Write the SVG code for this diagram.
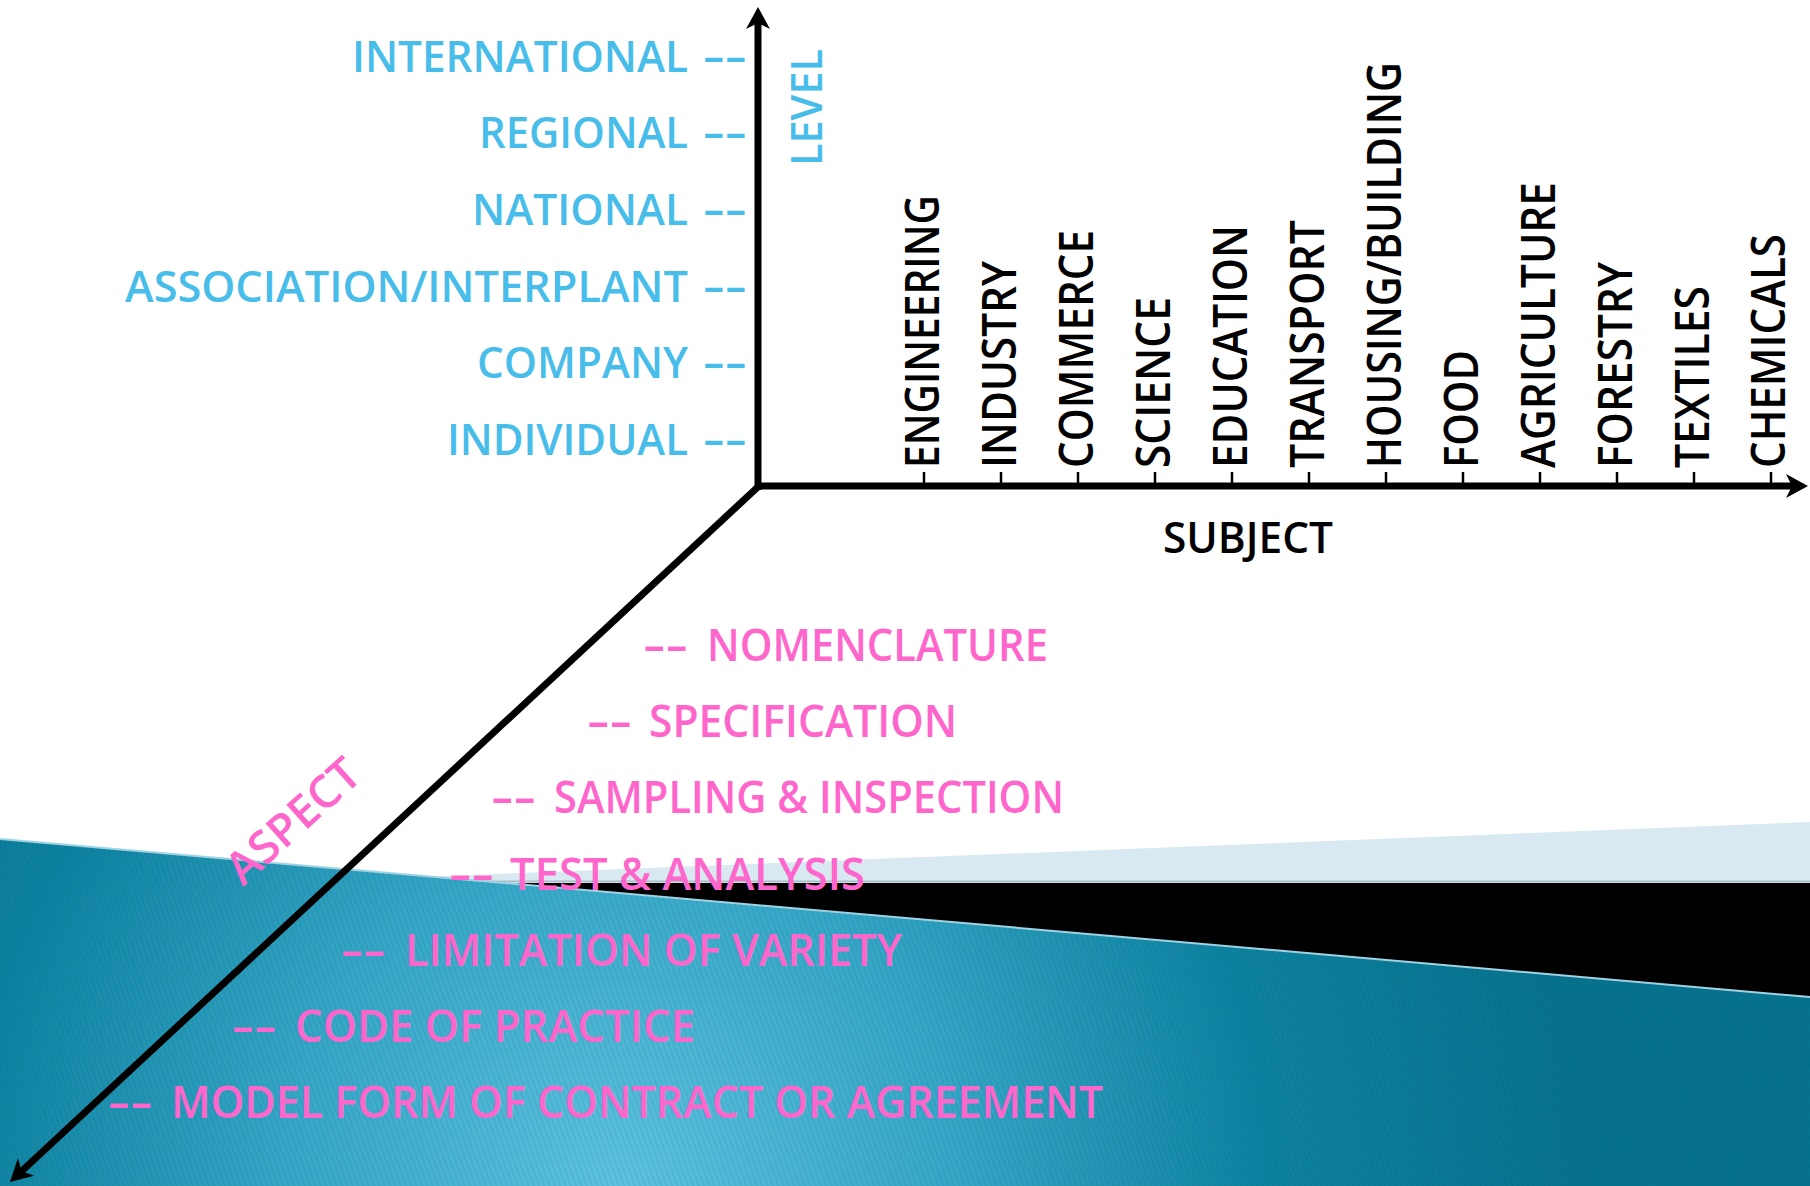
<svg xmlns="http://www.w3.org/2000/svg" width="1810" height="1186" viewBox="0 0 1810 1186">
<style>
.lvl{font-family:"Open Sans","Liberation Sans",sans-serif;font-size:44px;font-weight:600;fill:#48bdea}
.asp{font-family:"Open Sans","Liberation Sans",sans-serif;font-size:45px;font-weight:600;fill:#ff66cc}
.sub{font-family:"Open Sans","Liberation Sans",sans-serif;font-size:47px;font-weight:600;fill:#000}
.ttl{font-family:"Open Sans","Liberation Sans",sans-serif;font-size:43px;fill:#000;font-weight:600}
.axis{stroke:#000;stroke-width:7;fill:none;stroke-linecap:butt}
.tick{stroke:#000;stroke-width:2.5}
</style>
<defs>
<marker id="arr" markerUnits="userSpaceOnUse" viewBox="-10 -14 26 28" refX="0" refY="0" markerWidth="26" markerHeight="28" orient="auto" overflow="visible">
<path d="M14,0 L-8,-12 L-2,0 L-8,12 Z" fill="#000"/>
</marker>
<radialGradient id="teal" gradientUnits="userSpaceOnUse" cx="620" cy="1186" r="950">
<stop offset="0" stop-color="#5ec2df"/>
<stop offset="0.35" stop-color="#36a7c7"/>
<stop offset="0.68" stop-color="#0d82a0"/>
<stop offset="1" stop-color="#07728e"/>
</radialGradient>
<pattern id="stripes" patternUnits="userSpaceOnUse" width="5" height="5" patternTransform="rotate(-20)">
<line x1="1" y1="0" x2="1" y2="5" stroke="#003a50" stroke-opacity="0.12" stroke-width="1.2"/>
</pattern>
</defs>
<rect width="1810" height="1186" fill="#fff"/>
<g id="background">
<polygon points="420,877 1810,822 1810,882 420,882" fill="#d8e9f1"/>
<line x1="420" y1="881.5" x2="1810" y2="881.5" stroke="#a9bec8" stroke-width="2"/>
<polygon points="400,883 1810,883 1810,1005 400,1005" fill="#000"/>
<polygon points="0,839 1810,997 1810,1186 0,1186" fill="url(#teal)"/>
<polygon points="0,839 1810,997 1810,1186 0,1186" fill="url(#stripes)"/>
<line x1="0" y1="839" x2="1810" y2="997" stroke="#9fd3e3" stroke-width="2"/>
</g>
<g id="connectors">
<line class="axis" x1="758" y1="490" x2="758" y2="21" marker-end="url(#arr)"/>
<line class="axis" x1="755" y1="486" x2="1794" y2="486" marker-end="url(#arr)"/>
<line class="axis" x1="760" y1="485" x2="20.2" y2="1172.5" marker-end="url(#arr)"/>
<g id="ticks">
<line class="tick" x1="924" y1="472" x2="924" y2="484"/>
<line class="tick" x1="1001" y1="472" x2="1001" y2="484"/>
<line class="tick" x1="1078" y1="472" x2="1078" y2="484"/>
<line class="tick" x1="1155" y1="472" x2="1155" y2="484"/>
<line class="tick" x1="1232" y1="472" x2="1232" y2="484"/>
<line class="tick" x1="1309" y1="472" x2="1309" y2="484"/>
<line class="tick" x1="1386" y1="472" x2="1386" y2="484"/>
<line class="tick" x1="1463" y1="472" x2="1463" y2="484"/>
<line class="tick" x1="1540" y1="472" x2="1540" y2="484"/>
<line class="tick" x1="1617" y1="472" x2="1617" y2="484"/>
<line class="tick" x1="1694" y1="472" x2="1694" y2="484"/>
<line class="tick" x1="1771" y1="472" x2="1771" y2="484"/>
</g>
</g>
<g id="level-axis-label"><text class="lvl" font-size="46" transform="translate(822,166) rotate(-90)" textLength="117" lengthAdjust="spacingAndGlyphs">LEVEL</text></g>
<g id="level-international"><text class="lvl" x="352" y="72" textLength="336" lengthAdjust="spacingAndGlyphs">INTERNATIONAL</text><text class="lvl" x="703" y="72" textLength="44" lengthAdjust="spacingAndGlyphs">--</text></g>
<g id="level-regional"><text class="lvl" x="479" y="148" textLength="209" lengthAdjust="spacingAndGlyphs">REGIONAL</text><text class="lvl" x="703" y="148" textLength="44" lengthAdjust="spacingAndGlyphs">--</text></g>
<g id="level-national"><text class="lvl" x="472" y="225" textLength="216" lengthAdjust="spacingAndGlyphs">NATIONAL</text><text class="lvl" x="703" y="225" textLength="44" lengthAdjust="spacingAndGlyphs">--</text></g>
<g id="level-association"><text class="lvl" x="125" y="302" textLength="563" lengthAdjust="spacingAndGlyphs">ASSOCIATION/INTERPLANT</text><text class="lvl" x="703" y="302" textLength="44" lengthAdjust="spacingAndGlyphs">--</text></g>
<g id="level-company"><text class="lvl" x="477" y="378" textLength="211" lengthAdjust="spacingAndGlyphs">COMPANY</text><text class="lvl" x="703" y="378" textLength="44" lengthAdjust="spacingAndGlyphs">--</text></g>
<g id="level-individual"><text class="lvl" x="447" y="455" textLength="241" lengthAdjust="spacingAndGlyphs">INDIVIDUAL</text><text class="lvl" x="703" y="455" textLength="44" lengthAdjust="spacingAndGlyphs">--</text></g>
<g id="subject-engineering"><text class="sub" transform="translate(939,468) rotate(-90)" textLength="273" lengthAdjust="spacingAndGlyphs">ENGINEERING</text></g>
<g id="subject-industry"><text class="sub" transform="translate(1016,468) rotate(-90)" textLength="207" lengthAdjust="spacingAndGlyphs">INDUSTRY</text></g>
<g id="subject-commerce"><text class="sub" transform="translate(1093,468) rotate(-90)" textLength="238" lengthAdjust="spacingAndGlyphs">COMMERCE</text></g>
<g id="subject-science"><text class="sub" transform="translate(1170,468) rotate(-90)" textLength="171" lengthAdjust="spacingAndGlyphs">SCIENCE</text></g>
<g id="subject-education"><text class="sub" transform="translate(1247,468) rotate(-90)" textLength="243" lengthAdjust="spacingAndGlyphs">EDUCATION</text></g>
<g id="subject-transport"><text class="sub" transform="translate(1324,468) rotate(-90)" textLength="248" lengthAdjust="spacingAndGlyphs">TRANSPORT</text></g>
<g id="subject-housing"><text class="sub" transform="translate(1401,468) rotate(-90)" textLength="406" lengthAdjust="spacingAndGlyphs">HOUSING/BUILDING</text></g>
<g id="subject-food"><text class="sub" transform="translate(1478,468) rotate(-90)" textLength="118" lengthAdjust="spacingAndGlyphs">FOOD</text></g>
<g id="subject-agriculture"><text class="sub" transform="translate(1555,468) rotate(-90)" textLength="286" lengthAdjust="spacingAndGlyphs">AGRICULTURE</text></g>
<g id="subject-forestry"><text class="sub" transform="translate(1632,468) rotate(-90)" textLength="206" lengthAdjust="spacingAndGlyphs">FORESTRY</text></g>
<g id="subject-textiles"><text class="sub" transform="translate(1709,468) rotate(-90)" textLength="182" lengthAdjust="spacingAndGlyphs">TEXTILES</text></g>
<g id="subject-chemicals"><text class="sub" transform="translate(1785,468) rotate(-90)" textLength="234" lengthAdjust="spacingAndGlyphs">CHEMICALS</text></g>
<g id="subject-axis-label"><text class="ttl" x="1163" y="553" textLength="170" lengthAdjust="spacingAndGlyphs">SUBJECT</text></g>
<g id="aspect-axis-label"><text class="asp" font-size="40" font-weight="400" transform="translate(243,887) rotate(-42)" textLength="163" lengthAdjust="spacingAndGlyphs">ASPECT</text></g>
<g id="aspect-nomenclature"><text class="asp" x="643" y="661" textLength="45" lengthAdjust="spacingAndGlyphs">--</text><text class="asp" x="707" y="661" textLength="341" lengthAdjust="spacingAndGlyphs">NOMENCLATURE</text></g>
<g id="aspect-specification"><text class="asp" x="587" y="737" textLength="45" lengthAdjust="spacingAndGlyphs">--</text><text class="asp" x="649" y="737" textLength="308" lengthAdjust="spacingAndGlyphs">SPECIFICATION</text></g>
<g id="aspect-sampling"><text class="asp" x="491" y="813" textLength="45" lengthAdjust="spacingAndGlyphs">--</text><text class="asp" x="554" y="813" textLength="510" lengthAdjust="spacingAndGlyphs">SAMPLING &amp; INSPECTION</text></g>
<g id="aspect-test"><text class="asp" x="449" y="890" textLength="45" lengthAdjust="spacingAndGlyphs">--</text><text class="asp" x="510" y="890" textLength="355" lengthAdjust="spacingAndGlyphs">TEST &amp; ANALYSIS</text></g>
<g id="aspect-limitation"><text class="asp" x="341" y="966" textLength="45" lengthAdjust="spacingAndGlyphs">--</text><text class="asp" x="405" y="966" textLength="497" lengthAdjust="spacingAndGlyphs">LIMITATION OF VARIETY</text></g>
<g id="aspect-code"><text class="asp" x="232" y="1042" textLength="45" lengthAdjust="spacingAndGlyphs">--</text><text class="asp" x="295" y="1042" textLength="400" lengthAdjust="spacingAndGlyphs">CODE OF PRACTICE</text></g>
<g id="aspect-model"><text class="asp" x="108" y="1118" textLength="45" lengthAdjust="spacingAndGlyphs">--</text><text class="asp" x="171" y="1118" textLength="932" lengthAdjust="spacingAndGlyphs">MODEL FORM OF CONTRACT OR AGREEMENT</text></g>
</svg>
